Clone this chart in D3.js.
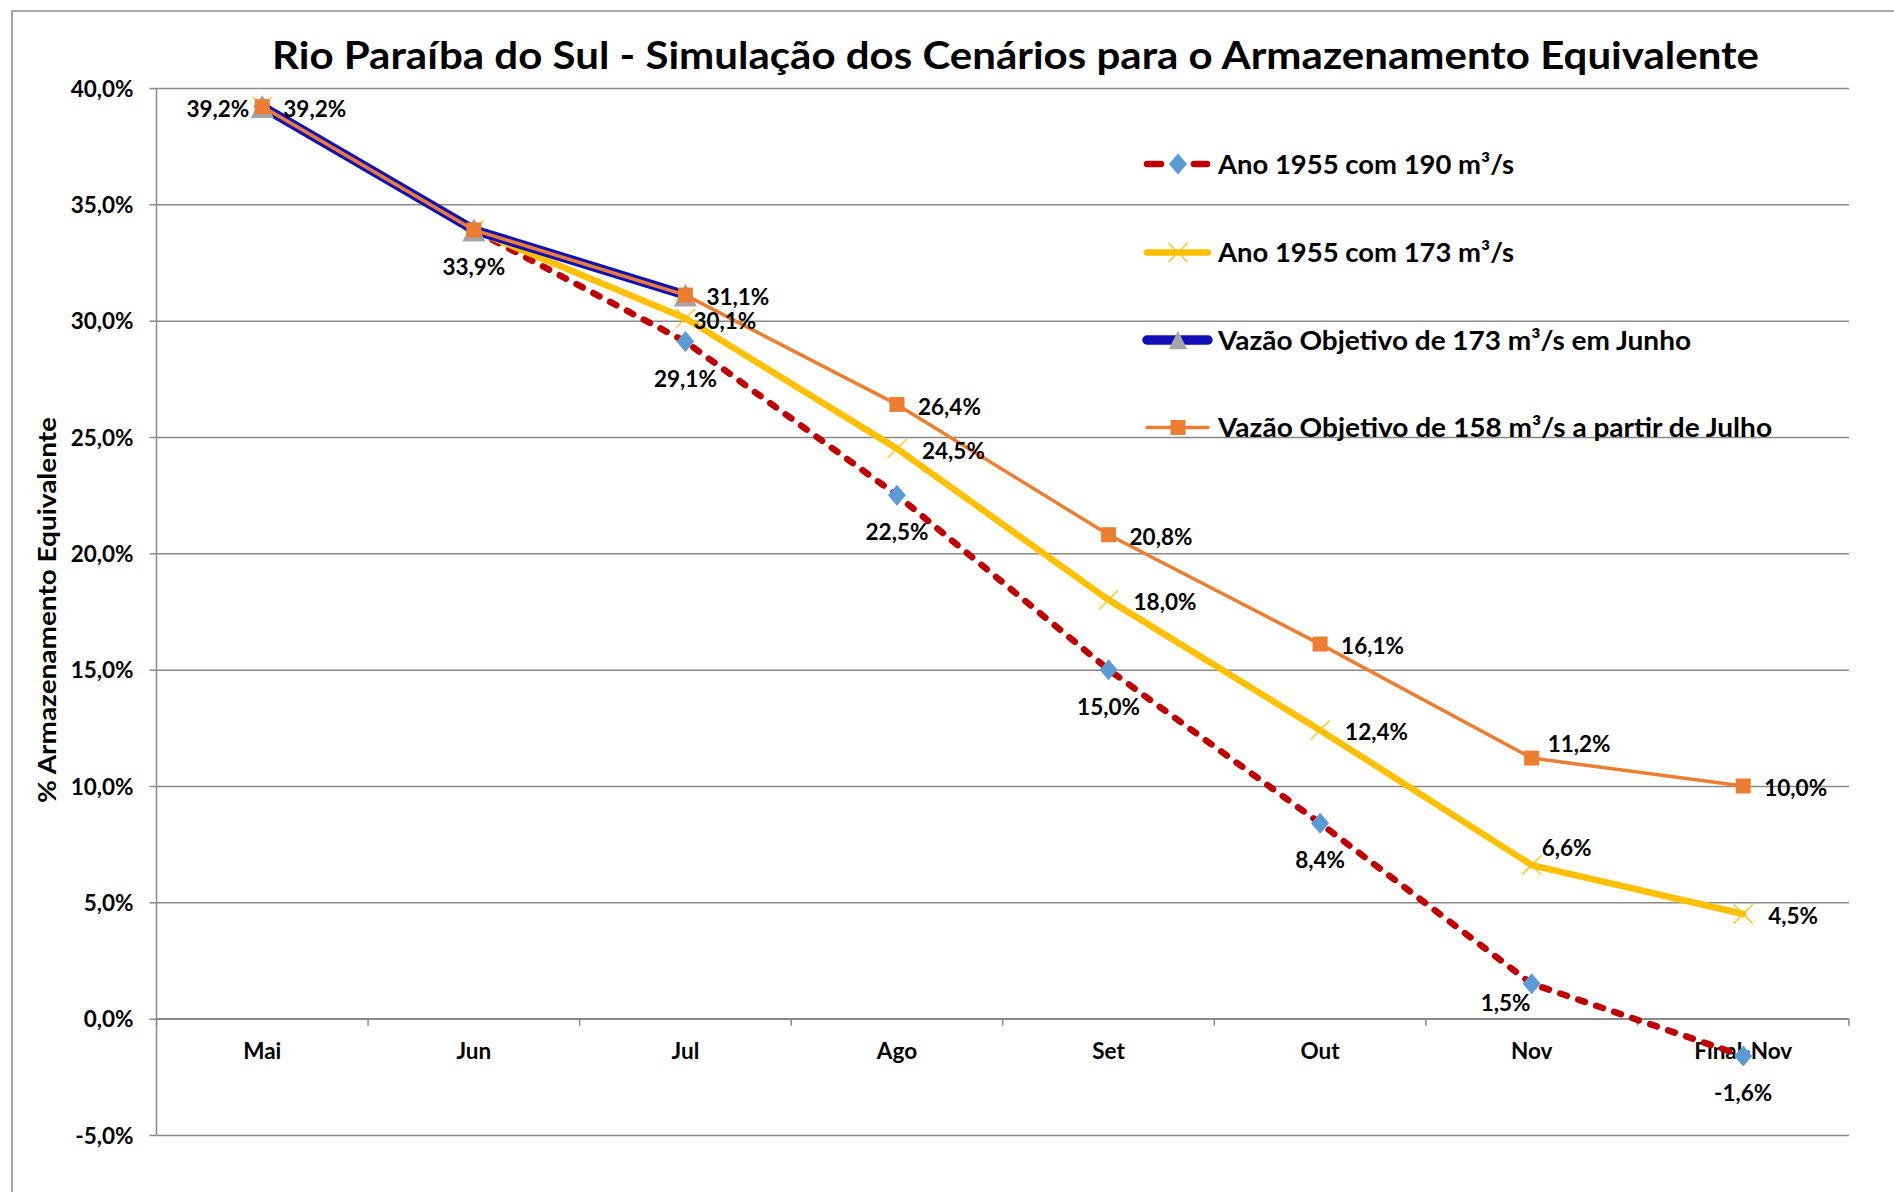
<!DOCTYPE html>
<html>
<head>
<meta charset="utf-8">
<script src="https://cdn.jsdelivr.net/npm/d3@7"></script>
<style>
  html, body { margin: 0; padding: 0; background: #fff; }
  svg { display: block; }
  text { font-family: Lato, "Open Sans", "DejaVu Sans", sans-serif; font-weight: 700; fill: #000; }
</style>
</head>
<body>
<svg id="chart" width="1894" height="1192"></svg>
<script>
// ---------------- data ----------------
const title = "Rio Paraíba do Sul - Simulação dos Cenários para o Armazenamento Equivalente";
const yAxisTitle = "% Armazenamento Equivalente";
const categories = ["Mai", "Jun", "Jul", "Ago", "Set", "Out", "Nov", "Final-Nov"];
const yTicks = [-5, 0, 5, 10, 15, 20, 25, 30, 35, 40];

const seriesNames = [
  "Ano 1955 com 190 m³/s",
  "Ano 1955 com 173 m³/s",
  "Vazão Objetivo de 173 m³/s em Junho",
  "Vazão Objetivo de 158 m³/s a partir de Julho"
];
const ano1955_190 = [39.2, 33.9, 29.1, 22.5, 15.0, 8.4, 1.5, -1.6];
const ano1955_173 = [39.2, 33.9, 30.1, 24.5, 18.0, 12.4, 6.6, 4.5];
const vazao173Junho = [39.2, 33.9, 31.1];
const vazao158Julho = [39.2, 33.9, 31.1, 26.4, 20.8, 16.1, 11.2, 10.0];

// label placement codes (layout only)
const labels190 = ["L", "B", "B", "B", "B", "B", "BL", "B"];
const labels173 = [null, null, "J", "R2", "R2", "R2", "AR2", "R2"];
const labelsJun = [null, null, null];
const labels158 = ["R", null, "R", "R", "R", "R", "AR", "R"];

// ---------------- layout / style ----------------
const svg = d3.select("#chart");
const W = 1894, H = 1192;
const plot = { left: 156.5, right: 1849, top: 88, bottom: 1135 };
const gridColor = "#898989";

const x = d3.scaleBand().domain(categories).range([plot.left, plot.right]).padding(0);
const xc = c => x(c) + x.bandwidth() / 2;
const y = d3.scaleLinear().domain([-5, 40]).range([plot.bottom, plot.top]);

const loc = d3.formatLocale({ decimal: ",", thousands: ".", grouping: [3], currency: ["R$", ""], minus: "-" });
const f1 = loc.format(".1f");
const pct = v => f1(v) + "%";

// outer chart border
svg.append("rect")
  .attr("x", 12).attr("y", 11).attr("width", W + 20).attr("height", H + 20)
  .attr("fill", "none").attr("stroke", gridColor).attr("stroke-width", 1.5);

// title
svg.append("text")
  .attr("x", 272).attr("y", 69)
  .attr("font-size", 38)
  .attr("textLength", 1487).attr("lengthAdjust", "spacingAndGlyphs")
  .text(title);

// y-axis title
svg.append("text")
  .attr("transform", "translate(56,610) rotate(-90)")
  .attr("text-anchor", "middle")
  .attr("font-size", 25)
  .attr("textLength", 386).attr("lengthAdjust", "spacingAndGlyphs")
  .text(yAxisTitle);

// gridlines
const gridAxis = d3.axisLeft(y).tickValues(yTicks).tickSize(-(plot.right - plot.left)).tickFormat("");
const gG = svg.append("g").attr("transform", `translate(${plot.left},0)`).call(gridAxis);
gG.select(".domain").remove();
gG.selectAll("line").attr("stroke", gridColor).attr("stroke-width", 1.5);

// y axis with labels
const yAxis = d3.axisLeft(y).tickValues(yTicks).tickSize(7).tickPadding(16).tickFormat(pct);
const yG = svg.append("g").attr("transform", `translate(${plot.left},0)`).call(yAxis);
yG.select(".domain").attr("stroke", gridColor).attr("stroke-width", 1.5).attr("d", `M0,${plot.top}V${plot.bottom}`);
yG.selectAll("line").attr("stroke", gridColor).attr("stroke-width", 1.5);
yG.selectAll("text").attr("font-size", 22.5).attr("font-family", "Lato, sans-serif").attr("font-weight", 700).attr("fill", "#000").attr("dy", "0.36em");

// x axis at zero
const xAxis = d3.axisBottom(x).tickSize(0).tickPadding(24);
const xG = svg.append("g").attr("transform", `translate(0,${y(0)})`).call(xAxis);
xG.select(".domain").attr("stroke", gridColor).attr("stroke-width", 1.5).attr("d", `M${plot.left},0H${plot.right}`);
xG.selectAll("text").attr("font-size", 22.5).attr("font-family", "Lato, sans-serif").attr("font-weight", 700).attr("fill", "#000").attr("dy", "0.71em");
// boundary ticks
const bounds = d3.range(categories.length + 1).map(i => plot.left + i * x.bandwidth());
svg.append("g").selectAll("line").data(bounds).join("line")
  .attr("x1", d => d).attr("x2", d => d)
  .attr("y1", y(0)).attr("y2", y(0) + 7)
  .attr("stroke", gridColor).attr("stroke-width", 1.5);

// marker shape helpers
function diamondPath(w, h) { return `M0,${-h}L${w},0L0,${h}L${-w},0Z`; }
function squarePath(s) { return `M${-s},${-s}H${s}V${s}H${-s}Z`; }
function trianglePath(s) { return `M0,${-s}L${s},${s}L${-s},${s}Z`; }
function crossPath(s) { return `M${-s},${-s}L${s},${s}M${s},${-s}L${-s},${s}`; }

const styles = [
  { color: "#C00000", width: 6.5, dash: "7 12", cap: "round", marker: "diamond" },
  { color: "#FFC000", width: 6.5, dash: null, cap: "round", marker: "cross" },
  { color: "#1010B8", width: 9.5, dash: null, cap: "round", marker: "triangle" },
  { color: "#ED7D31", width: 3.5, dash: null, cap: "round", marker: "square" }
];

function drawMarker(g, type, cx, cy, scale) {
  const s = scale || 1;
  if (type === "diamond") {
    g.append("path").attr("d", diamondPath(9 * s, 10.5 * s)).attr("transform", `translate(${cx},${cy})`).attr("fill", "#5B9BD5");
  } else if (type === "square") {
    g.append("path").attr("d", squarePath(7.5 * s)).attr("transform", `translate(${cx},${cy})`).attr("fill", "#ED7D31");
  } else if (type === "triangle") {
    g.append("path").attr("d", trianglePath(11.5 * s)).attr("transform", `translate(${cx},${cy})`).attr("fill", "#A5A5A5");
  } else if (type === "cross") {
    g.append("path").attr("d", crossPath(9.5 * s)).attr("transform", `translate(${cx},${cy})`)
      .attr("fill", "none").attr("stroke", "#FFC000").attr("stroke-width", 1.3);
  }
}

const allSeries = [ano1955_190, ano1955_173, vazao173Junho, vazao158Julho];
const allLabels = [labels190, labels173, labelsJun, labels158];

const line = d3.line().x(d => xc(d.c)).y(d => y(d.v));

const seriesG = svg.append("g");
allSeries.forEach((vals, i) => {
  const st = styles[i];
  const pts = vals.map((v, j) => ({ c: categories[j], v }));
  const g = seriesG.append("g");
  g.append("path").datum(pts).attr("d", line)
    .attr("fill", "none").attr("stroke", st.color).attr("stroke-width", st.width)
    .attr("stroke-linecap", st.cap).attr("stroke-linejoin", "round")
    .attr("stroke-dasharray", st.dash);
  pts.forEach(p => drawMarker(g, st.marker, xc(p.c), y(p.v)));
});

// data labels
const place = {
  L:   { dx: -13, dy: 2,   anchor: "end" },
  B:   { dx: 0,   dy: 37,  anchor: "middle" },
  BL:  { dx: -26, dy: 19,  anchor: "middle" },
  R:   { dx: 21,  dy: 2,   anchor: "start" },
  R2:  { dx: 25,  dy: 2,   anchor: "start" },
  J:   { dx: 8,   dy: 3,   anchor: "start" },
  AR:  { dx: 16,  dy: -14, anchor: "start" },
  AR2: { dx: 10,  dy: -17, anchor: "start" }
};
const labG = svg.append("g");
allSeries.forEach((vals, i) => {
  vals.forEach((v, j) => {
    const code = allLabels[i][j];
    if (!code) return;
    const p = place[code];
    labG.append("text")
      .attr("x", xc(categories[j]) + p.dx)
      .attr("y", y(v) + p.dy)
      .attr("dy", "0.36em")
      .attr("text-anchor", p.anchor)
      .attr("font-size", 22.5)
      .text(pct(v));
  });
});

// legend
const legendY = [164, 252.5, 340, 427.5];
const legendW = [296, 296, 473, 554];
const lg = svg.append("g");
seriesNames.forEach((name, i) => {
  const st = styles[i];
  const ly = legendY[i];
  if (i === 0) {
    lg.append("line").attr("x1", 1147).attr("x2", 1161).attr("y1", ly).attr("y2", ly)
      .attr("stroke", st.color).attr("stroke-width", st.width).attr("stroke-linecap", "round");
    lg.append("line").attr("x1", 1194).attr("x2", 1207).attr("y1", ly).attr("y2", ly)
      .attr("stroke", st.color).attr("stroke-width", st.width).attr("stroke-linecap", "round");
  } else {
    lg.append("line").attr("x1", 1147).attr("x2", 1208).attr("y1", ly).attr("y2", ly)
      .attr("stroke", st.color).attr("stroke-width", st.width).attr("stroke-linecap", "round");
  }
  drawMarker(lg, st.marker, 1178, ly, i === 2 ? 0.8 : 1);
  lg.append("text")
    .attr("x", 1218).attr("y", ly).attr("dy", "0.36em")
    .attr("font-size", 26.5)
    .attr("textLength", legendW[i]).attr("lengthAdjust", "spacingAndGlyphs")
    .text(name);
});
</script>
</body>
</html>
